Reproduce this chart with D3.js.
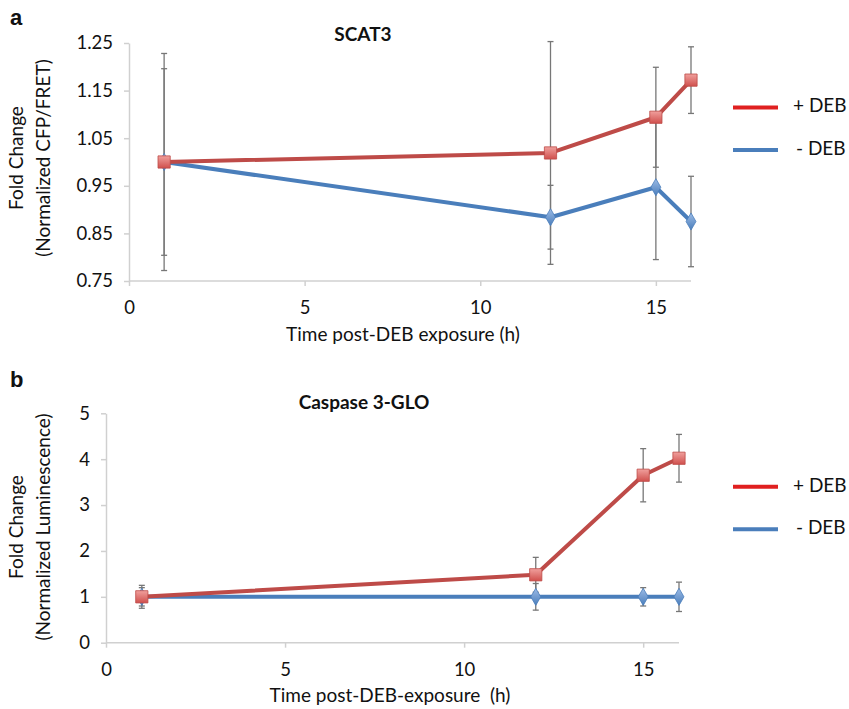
<!doctype html>
<html>
<head>
<meta charset="utf-8">
<title>SCAT3 and Caspase 3-GLO</title>
<script src="https://cdn.jsdelivr.net/npm/d3@7"></script>
<style>
    body { margin: 0; background: #fff; }
    svg text { font-family: Lato, "Open Sans", sans-serif; fill: #111; }
    .axis path, .axis line { stroke: #d0d0d0; stroke-width: 1.5px; }
    .axis text { font-size: 18.5px; }
    .ttl { font-weight: bold; font-size: 19px; }
    .lbl { font-size: 19px; }
    .panel { font-weight: bold; font-size: 22px; font-family: "Liberation Sans", Arial, sans-serif; }
</style>
</head>
<body>
<svg id="chart" width="849" height="709"></svg>
<script>
// time points (h)
var hours = [1, 12, 15, 16];

// panel a - SCAT3
var scatPlus = [1.000, 1.019, 1.094, 1.172];
var scatPlusErr = [0.228, 0.234, 0.105, 0.070];
var scatMinus = [1.000, 0.884, 0.947, 0.875];
var scatMinusErr = [0.196, 0.067, 0.152, 0.095];
var scatTicks = [0.75, 0.85, 0.95, 1.05, 1.15, 1.25];

// panel b - Caspase 3-GLO
var caspPlus = [1.00, 1.48, 3.65, 4.02];
var caspPlusErr = [0.25, 0.38, 0.58, 0.52];
var caspMinus = [1.00, 1.00, 1.00, 1.00];
var caspMinusErr = [0.20, 0.29, 0.20, 0.32];
var caspTicks = [0, 1, 2, 3, 4, 5];

var xTicks = [0, 5, 10, 15];
var seriesNames = ["+ DEB", "- DEB"];

var svg = d3.select("#chart");

var defs = svg.append("defs");
var g1 = defs.append("linearGradient").attr("id", "redGrad").attr("x1", 0).attr("y1", 0).attr("x2", 0).attr("y2", 1);
g1.append("stop").attr("offset", "0%").attr("stop-color", "#f0a09d");
g1.append("stop").attr("offset", "100%").attr("stop-color", "#d0504d");
var g2 = defs.append("linearGradient").attr("id", "blueGrad").attr("x1", 0).attr("y1", 0).attr("x2", 0).attr("y2", 1);
g2.append("stop").attr("offset", "0%").attr("stop-color", "#9cbbe6");
g2.append("stop").attr("offset", "100%").attr("stop-color", "#4a7ebb");

function drawPanel(cfg) {
    var x = d3.scaleLinear().domain([0, 16]).range([cfg.left, cfg.right]);
    var y = d3.scaleLinear().domain(cfg.yDomain).range([cfg.bottom, cfg.top]);

    svg.append("g").attr("class", "axis")
        .attr("transform", "translate(0," + cfg.bottom + ")")
        .call(d3.axisBottom(x).tickValues(xTicks).tickSize(5).tickSizeOuter(0).tickPadding(15))
        .call(function (g) { g.select(".domain").attr("d", "M" + cfg.left + ",0H" + cfg.right); });

    svg.append("g").attr("class", "axis")
        .attr("transform", "translate(" + cfg.left + ",0)")
        .call(d3.axisLeft(y).tickValues(cfg.yTicks).tickFormat(cfg.fmt).tickSize(5).tickSizeOuter(0).tickPadding(11));

    svg.selectAll(".axis text").attr("fill", "#111");

    var line = d3.line().x(function (d, i) { return x(hours[i]); }).y(function (d) { return y(d); });

    var series = [
        { vals: cfg.minus, err: cfg.minusErr, color: "#4a7ebb", fill: "url(#blueGrad)", shape: "diamond" },
        { vals: cfg.plus, err: cfg.plusErr, color: "#be4b48", fill: "url(#redGrad)", shape: "square" }
    ];

    // error bars first
    series.forEach(function (s) {
        var eg = svg.append("g").attr("stroke", "#777").attr("stroke-width", 1.3);
        s.vals.forEach(function (v, i) {
            var cx = x(hours[i]);
            eg.append("line").attr("x1", cx).attr("x2", cx).attr("y1", y(v - s.err[i])).attr("y2", y(v + s.err[i]));
            eg.append("line").attr("x1", cx - 3).attr("x2", cx + 3).attr("y1", y(v - s.err[i])).attr("y2", y(v - s.err[i]));
            eg.append("line").attr("x1", cx - 3).attr("x2", cx + 3).attr("y1", y(v + s.err[i])).attr("y2", y(v + s.err[i]));
        });
    });

    series.forEach(function (s) {
        svg.append("path").datum(s.vals)
            .attr("fill", "none").attr("stroke", s.color).attr("stroke-width", 4)
            .attr("stroke-linejoin", "round").attr("d", line);
        svg.append("g").selectAll("path").data(s.vals).join("path")
            .attr("transform", function (d, i) { return "translate(" + x(hours[i]) + "," + y(d) + ")"; })
            .attr("d", s.shape === "square"
                ? d3.symbol().type(d3.symbolSquare).size(150)
                : d3.symbol().type(d3.symbolDiamond).size(85))
            .attr("fill", s.fill).attr("stroke", s.color).attr("stroke-width", 0.8);
    });

    svg.append("text").attr("class", "ttl").attr("x", cfg.titleX).attr("y", cfg.titleY)
        .attr("text-anchor", "middle").attr("dominant-baseline", "middle").text(cfg.title);

    svg.append("text").attr("class", "lbl").attr("x", cfg.xLabelX).attr("y", cfg.xLabelY)
        .attr("text-anchor", "middle").attr("dominant-baseline", "middle").text(cfg.xLabel);

    var yl = svg.append("text").attr("class", "lbl").attr("text-anchor", "middle")
        .attr("transform", "translate(" + 18 + "," + cfg.yLabelY + ") rotate(-90)");
    yl.append("tspan").attr("x", 0).attr("y", 0).attr("dominant-baseline", "middle").text("Fold Change");
    yl.append("tspan").attr("x", 0).attr("y", 27).attr("dominant-baseline", "middle").text(cfg.yLabel);

    svg.append("text").attr("class", "panel").attr("x", 10).attr("y", cfg.panelY).text(cfg.panel);

    // legend
    var leg = svg.append("g");
    [{ c: "#e02020" }, { c: "#4a7ebb" }].forEach(function (l, i) {
        var ly = cfg.legendY + i * 42.5;
        leg.append("line").attr("x1", 733).attr("x2", 778).attr("y1", ly).attr("y2", ly)
            .attr("stroke", l.c).attr("stroke-width", 4);
        leg.append("text").attr("x", i === 0 ? 793 : 796).attr("y", ly).attr("dominant-baseline", "middle")
            .style("font-size", "19px").text(seriesNames[i]);
    });
}

drawPanel({
    left: 129, right: 691, top: 43, bottom: 281,
    yDomain: [0.75, 1.25], yTicks: scatTicks, fmt: d3.format(".2f"),
    plus: scatPlus, plusErr: scatPlusErr, minus: scatMinus, minusErr: scatMinusErr,
    title: "SCAT3", titleX: 363, titleY: 36,
    xLabel: "Time post-DEB exposure (h)", xLabelX: 403, xLabelY: 336,
    yLabel: "(Normalized CFP/FRET)", yLabelY: 158,
    panel: "a", panelY: 25, legendY: 107.5
});

drawPanel({
    left: 106, right: 679, top: 413.3, bottom: 642.7,
    yDomain: [0, 5], yTicks: caspTicks, fmt: d3.format("d"),
    plus: caspPlus, plusErr: caspPlusErr, minus: caspMinus, minusErr: caspMinusErr,
    title: "Caspase 3-GLO", titleX: 364, titleY: 404,
    xLabel: "Time post-DEB-exposure\u00a0 (h)", xLabelX: 390, xLabelY: 697,
    yLabel: "(Normalized Luminescence)", yLabelY: 527,
    panel: "b", panelY: 387, legendY: 486.7
});
</script>
</body>
</html>
